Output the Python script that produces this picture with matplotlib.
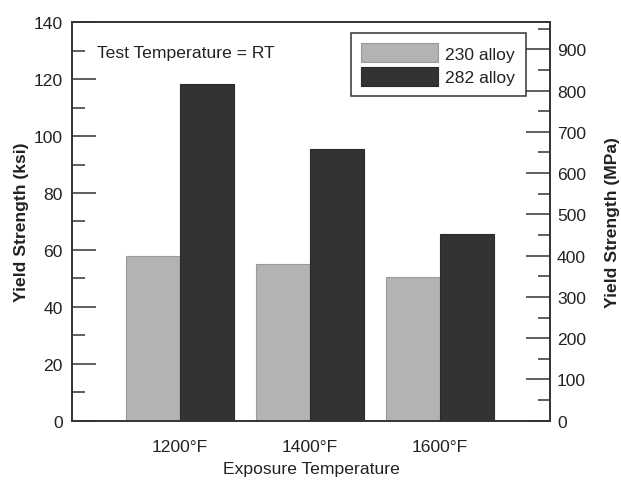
import matplotlib
matplotlib.use("Agg")
import matplotlib.pyplot as plt
from matplotlib.ticker import MultipleLocator
import numpy as np

plt.rcParams['font.family'] = ['Liberation Sans', 'DejaVu Sans']

categories = ["1200°F", "1400°F", "1600°F"]
alloy_230 = [57.8, 55.2, 50.4]
alloy_282 = [118.3, 95.5, 65.6]
series_labels = ["230 alloy", "282 alloy"]
KSI_TO_MPA = 6.895

FS = 12.6
TXT = "#222222"
SPINE = "#333333"

fig = plt.figure(figsize=(6.21, 4.81), dpi=100)
ax = fig.add_axes([0.1159, 0.1233, 0.7697, 0.8283])

x = np.arange(1, len(categories) + 1)
w = 0.415
ax.bar(x - w / 2, alloy_230, width=w, color="#b3b3b3", edgecolor="#9a9a9a",
       linewidth=0.8, label=series_labels[0])
ax.bar(x + w / 2, alloy_282, width=w, color="#333333", edgecolor="#2a2a2a",
       linewidth=0.8, label=series_labels[1])

ax.set_xlim(0.169, 3.846)
ax.set_ylim(0, 140)
ax.set_xticks(x)
ax.set_xticklabels(categories)
ax.yaxis.set_major_locator(MultipleLocator(20))
ax.yaxis.set_minor_locator(MultipleLocator(10))

ax.tick_params(axis='y', which='major', direction='in', length=17, width=1.1,
               color=SPINE, labelsize=FS, labelcolor=TXT, pad=6.5, right=False)
ax.tick_params(axis='y', which='minor', direction='in', length=9, width=1.1,
               color=SPINE, right=False)
ax.tick_params(axis='x', which='both', length=0, labelsize=FS,
               labelcolor=TXT, pad=13)

for s in ax.spines.values():
    s.set_color(SPINE)
    s.set_linewidth(1.2)

ax.set_ylabel("Yield Strength (ksi)", fontsize=FS, fontweight='bold',
              color=TXT, labelpad=3.5)
ax.set_xlabel("Exposure Temperature", fontsize=FS, color=TXT, labelpad=5)

ax.text(0.0523, 0.9247, "Test Temperature = RT", transform=ax.transAxes,
        fontsize=FS, color=TXT, ha='left', va='center')

leg = ax.legend(loc='upper right', bbox_to_anchor=(0.9492, 0.9739),
                borderaxespad=0, fancybox=False, framealpha=1,
                edgecolor=SPINE, fontsize=FS, handlelength=4.4,
                handleheight=1.3, handletextpad=0.4, labelspacing=0.25,
                borderpad=0.6)
leg.get_frame().set_linewidth(1.1)
for t in leg.get_texts():
    t.set_color(TXT)

ax2 = ax.twinx()
ax2.set_ylim(0, 140 * KSI_TO_MPA)
ax2.yaxis.set_major_locator(MultipleLocator(100))
ax2.yaxis.set_minor_locator(MultipleLocator(50))
ax2.tick_params(axis='y', which='major', direction='in', length=17, width=1.1,
                color=SPINE, labelsize=FS, labelcolor=TXT, pad=5)
ax2.tick_params(axis='y', which='minor', direction='in', length=9, width=1.1,
                color=SPINE)
for s in ax2.spines.values():
    s.set_color(SPINE)
    s.set_linewidth(1.2)
ax2.set_ylabel("Yield Strength (MPa)", fontsize=FS, fontweight='bold',
               color=TXT, rotation=90, labelpad=14)

fig.savefig("out.png", dpi=100)
